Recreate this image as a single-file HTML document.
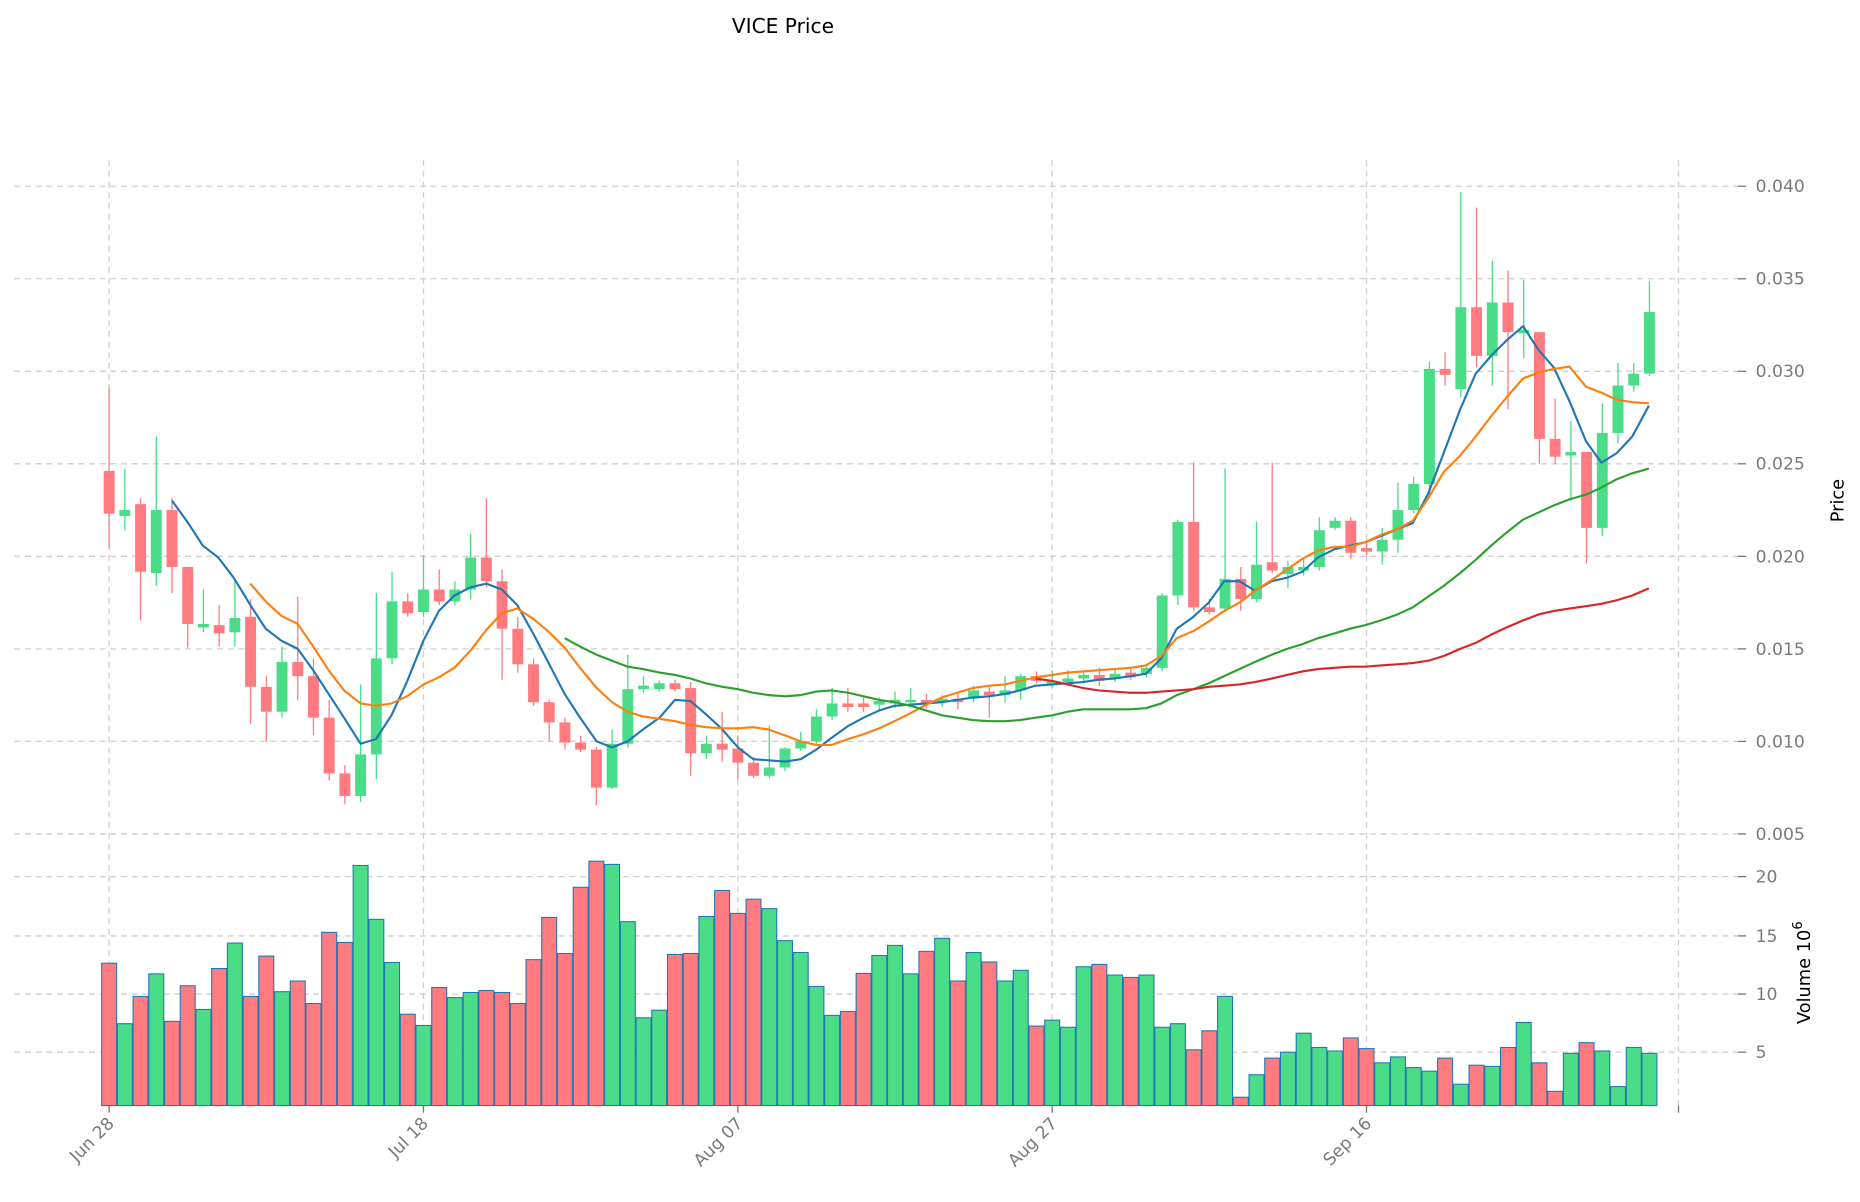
<!DOCTYPE html>
<html><head><meta charset="utf-8"><style>
html,body{margin:0;padding:0;background:#fff;}
svg{display:block;font-family:"DejaVu Sans","Liberation Sans",sans-serif;}
</style></head><body>
<svg id="s" width="1860" height="1202" viewBox="0 0 1568 1013.3" xmlns="http://www.w3.org/2000/svg">
<rect width="1568" height="1014" fill="#fff"/>
<g id="grid" stroke="#cfcfcf" stroke-width="1.1" stroke-dasharray="5,4" fill="none"></g>
<g id="cand"></g>
<g id="vol"></g>
<g id="ma" fill="none" stroke-width="1.8" stroke-linejoin="round"></g>
<g id="ticks" stroke="#777" stroke-width="1.1"></g>
<g fill="#7a7a7a" font-size="14.5">
<text x="1480" y="162">0.040</text>
<text x="1480" y="240">0.035</text>
<text x="1480" y="318">0.030</text>
<text x="1480" y="396">0.025</text>
<text x="1480" y="474">0.020</text>
<text x="1480" y="552">0.015</text>
<text x="1480" y="630">0.010</text>
<text x="1480" y="708">0.005</text>
<text x="1480" y="744">20</text>
<text x="1480" y="794">15</text>
<text x="1480" y="843">10</text>
<text x="1480" y="892">5</text>
<text transform="translate(97,948) rotate(-45)" text-anchor="end">Jun 28</text>
<text transform="translate(362,948) rotate(-45)" text-anchor="end">Jul 18</text>
<text transform="translate(627,948) rotate(-45)" text-anchor="end">Aug 07</text>
<text transform="translate(892,948) rotate(-45)" text-anchor="end">Aug 27</text>
<text transform="translate(1157,948) rotate(-45)" text-anchor="end">Sep 16</text>
</g>
<text x="660" y="28" font-size="17" text-anchor="middle" fill="#000">VICE Price</text>
<text transform="translate(1554,422) rotate(-90)" font-size="15" text-anchor="middle" fill="#000">Price</text>
<text transform="translate(1526,820) rotate(-90)" font-size="15" text-anchor="middle" fill="#000">Volume  10<tspan dy="-7" font-size="11">6</tspan></text>
</svg>
<script>
var NS="http://www.w3.org/2000/svg";
function el(p,t,a){var e=document.createElementNS(NS,t);for(var k in a)e.setAttribute(k,a[k]);document.getElementById(p).appendChild(e);return e;}
// grid
[92,357,622,887,1152,1415].forEach(function(x){el("grid","line",{x1:x,y1:135,x2:x,y2:932});});
[157,235,313,391,469,547,625,703,739,789,838,887].forEach(function(y){el("grid","line",{x1:12,y1:y,x2:1465,y2:y});});
[157,235,313,391,469,547,625,703,739,789,838,887].forEach(function(y){el("ticks","line",{x1:1465,y1:y,x2:1472,y2:y});});
[92,357,622,887,1152,1415].forEach(function(x){el("ticks","line",{x1:x,y1:932,x2:x,y2:938});});
// candles: color, bodyTop, bodyBot, wickTop, wickBot
var C=[
"r,397,433,327,462","g,430,435,395,447","r,425,482,420,523","g,430,483,368,494","r,430,478,420,500",
"r,478,526,478,546","g,526,529,497,533","r,527,534,510,545","g,521,533,490,545","r,520,579,505,610",
"r,579,600,570,625","g,558,600,545,605","r,558,570,503,590","r,570,605,555,620","r,605,652,590,658",
"r,652,671,645,678","g,636,671,577,676","g,555,636,500,657","g,507,555,482,560","r,507,517,500,520",
"g,497,516,468,520","r,497,507,480,510","g,497,507,490,510","g,470,497,450,505","r,470,490,420,495",
"r,490,530,480,573","r,530,560,520,567","r,560,592,555,595","r,592,609,590,625","r,609,626,605,632",
"r,626,632,620,634","r,632,664,630,679","g,627,664,615,665","g,581,627,552,630","g,578,581,570,584",
"g,576,581,574,583","r,576,581,573,583","r,580,635,575,654","g,627,635,620,640","r,627,632,600,642",
"r,631,643,620,657","r,643,654,638,656","g,647,654,612,656","g,631,647,630,650","g,625,631,617,633",
"g,604,625,598,628","g,593,604,580,607","r,593,596,580,600","r,593,596,588,600","g,591,594,588,598",
"g,590,593,583,597","g,590,592,580,596","r,590,593,585,597","g,589,592,586,596","r,589,592,583,598",
"g,582,589,578,592","r,583,586,578,605","g,582,586,570,592","g,570,582,568,590","r,570,574,566,576",
"g,574,577,565,580","g,572,575,565,578","g,569,572,565,575","r,569,574,563,578","g,568,572,564,575",
"r,567,571,564,573","g,563,568,560,571","g,502,563,500,566","g,440,502,438,510","r,440,512,390,515",
"r,512,516,505,518","g,488,513,395,516","r,488,505,478,515","g,476,505,440,508","r,474,481,390,483",
"g,478,484,473,496","g,478,481,470,485","g,447,478,436,481","g,439,445,436,447","r,439,466,436,471",
"r,462,465,457,468","g,455,465,445,476","g,430,455,407,466","g,408,430,402,433","g,311,408,305,420",
"r,311,316,297,325","g,259,328,162,335","r,259,300,175,310","g,255,300,220,325","r,255,280,228,345",
"g,278,281,236,302","r,280,370,280,391","r,370,385,336,391","g,381,384,355,422","r,381,445,381,475",
"g,365,445,340,452","g,325,365,306,374","g,315,325,306,330","g,263,315,237,317"];
var V=[812,863,840,821,861,831,851,816.5,795,840,806,836,827,846,786,794.5,729.6,775,811.4,855,864.5,832.5,841,836.7,835,836.7,846,809,773.4,803.8,748,726,728.7,777,858,851.6,804.6,803.8,772.6,750.7,770,758,766,793,803,831.6,856,852.7,820.6,805.5,797,821,802,791,827,803,811,827,818,865,860,866,815,813,822,824,822,866,863,885,869,840,925,906,892,887,871,883,886,875,884,896,891,900,903,892,914,898,899,883,862,896,920,888,879,886,916,883,888];
var G="#4bdc88",R="#ff7b80";
C.forEach(function(s,i){var a=s.split(","),x=92+13.25*i,c=a[0]=="g"?G:R,bt=+a[1],bb=+a[2];
 el("cand","line",{x1:x,y1:a[3],x2:x,y2:a[4],stroke:c,"stroke-width":1.1});
 el("cand","rect",{x:x-4.6,y:bt,width:9.2,height:Math.max(bb-bt,1.5),fill:c});
 el("vol","rect",{x:x-6.3,y:V[i],width:12.6,height:932-V[i],fill:c,stroke:"#1f77b4","stroke-width":0.9});
});
function line(pts,col){el("ma","polyline",{points:pts,stroke:col});}
line("145,422 158,440 171,460 184,470 197,487 211,510 224,530 237,540 251,547 264,565 277,585 290,605 304,627 317,623 330,603 343,575 357,540 370,515 383,502 397,495 410,492 423,497 436,510 450,535 463,560 476,585 489,605 503,625 516,630 529,625 542,615 556,605 569,590 582,591 595,602 609,615 622,630 635,640 648,641 662,642 675,640 688,632 701,622 715,612 728,605 741,599 754,595 768,594 781,593 794,592 807,590 820,588 834,587 847,585 860,582 873,578 887,577 900,576 913,575 926,573 939,572 953,570 966,568 979,555 992,530 1006,520 1019,508 1032,490 1045,490 1058,498 1072,490 1085,487 1098,482 1111,470 1125,463 1138,460 1151,457 1164,452 1178,446 1191,441 1204,416 1217,382 1231,345 1244,315 1257,300 1270,287 1284,275 1297,295 1310,310 1323,338 1337,372 1350,390 1363,382 1376,368 1390,342","#1f77b4");
line("211,492 224,507 237,519 251,526 264,545 277,565 290,582 304,593 317,595 330,593 343,587 357,577 370,571 383,563 397,548 410,531 423,517 436,513 450,522 463,533 476,546 489,563 503,580 516,592 529,600 542,604 556,606 569,608 582,611 595,613 609,614 622,614 635,613 648,615 662,620 675,625 688,628 701,628 715,623 728,619 741,614 754,608 768,601 781,594 794,588 807,584 820,580 834,578 847,577 860,574 873,571 887,569 900,567 913,566 926,565 939,564 953,563 966,561 979,553 992,538 1006,532 1019,524 1032,515 1045,508 1058,498 1072,489 1085,480 1098,471 1111,464 1125,461 1138,461 1151,457 1164,451 1178,446 1191,439 1204,420 1217,398 1231,384 1244,368 1257,351 1270,335 1284,319 1297,314 1310,311 1323,309 1337,326 1350,331 1363,337 1376,339 1390,340","#ff7f0e");
line("476,538 489,545 503,552 516,557 529,562 542,564 556,567 569,569 582,572 595,576 609,579 622,581 635,584 648,586 662,587 675,586 688,583 701,582 715,584 728,587 741,590 754,592 768,595 781,599 794,603 807,605 820,607 834,608 847,608 860,607 873,605 887,603 900,600 913,598 926,598 939,598 953,598 966,597 979,593 992,586 1006,581 1019,576 1032,570 1045,564 1058,558 1072,552 1085,547 1098,543 1111,538 1125,534 1138,530 1151,527 1164,523 1178,518 1191,512 1204,503 1217,494 1231,483 1244,472 1257,460 1270,449 1284,438 1297,432 1310,426 1323,421 1337,417 1350,411 1363,404 1376,399 1390,395","#2ca02c");
line("873,572 887,574 900,577 913,580 926,582 939,583 953,584 966,584 979,583 992,582 1006,581 1019,579 1032,578 1045,577 1058,575 1072,572 1085,569 1098,566 1111,564 1125,563 1138,562 1151,562 1164,561 1178,560 1191,559 1204,557 1217,553 1231,547 1244,542 1257,535 1270,529 1284,523 1297,518 1310,515 1323,513 1337,511 1350,509 1363,506 1376,502 1390,496","#d62728");
</script>
</body></html>
